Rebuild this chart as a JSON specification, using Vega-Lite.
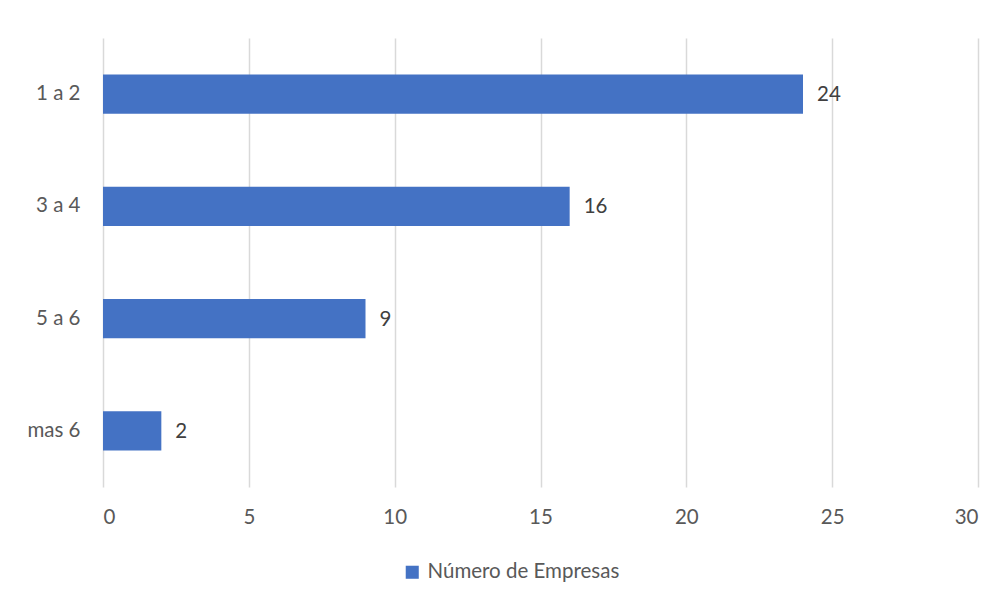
{
  "$schema": "https://vega.github.io/schema/vega-lite/v6.json",
  "autosize": "none",
  "width": 875,
  "height": 449,
  "padding": {"left": 103, "top": 38, "right": 28, "bottom": 115},
  "background": "white",
  "data": {"values": [
    {"rango": "1 a 2", "empresas": 24, "serie": "Número de Empresas"},
    {"rango": "3 a 4", "empresas": 16, "serie": "Número de Empresas"},
    {"rango": "5 a 6", "empresas": 9, "serie": "Número de Empresas"},
    {"rango": "mas 6", "empresas": 2, "serie": "Número de Empresas"}
  ]},
  "config": {
    "view": {"stroke": null},
    "font": "Lato",
    "axis": {"labelFont": "Lato", "labelFontSize": 20.5, "labelColor": "#595959"}
  },
  "encoding": {
    "y": {"field": "rango", "type": "nominal", "sort": null,
      "scale": {"paddingInner": 0.65, "paddingOuter": 0.325},
      "axis": {"title": null, "domain": false, "ticks": false, "grid": false, "labelPadding": 23}},
    "x": {"field": "empresas", "type": "quantitative",
      "scale": {"domain": [0, 30], "nice": false},
      "axis": {"title": null, "values": [0, 5, 10, 15, 20, 25, 30], "domain": false, "ticks": false,
        "grid": true, "gridColor": "#d9d9d9", "gridWidth": 1.5, "labelPadding": 20}}
  },
  "layer": [
    {
      "mark": {"type": "bar"},
      "encoding": {
        "color": {"field": "serie", "type": "nominal",
          "scale": {"domain": ["Número de Empresas"], "range": ["#4472C4"]},
          "legend": {"title": null, "orient": "none", "legendX": 299, "legendY": 524,
            "symbolType": "square", "symbolSize": 170, "symbolStrokeWidth": 0, "labelLimit": 0,
            "labelFont": "Lato", "labelFontSize": 20.5, "labelColor": "#595959", "labelOffset": 5}}
      }
    },
    {
      "mark": {"type": "text", "align": "left", "dx": 14, "dy": 1, "fontSize": 20.5, "font": "Lato", "color": "#404040"},
      "encoding": {"text": {"field": "empresas", "type": "quantitative"}}
    }
  ]
}
